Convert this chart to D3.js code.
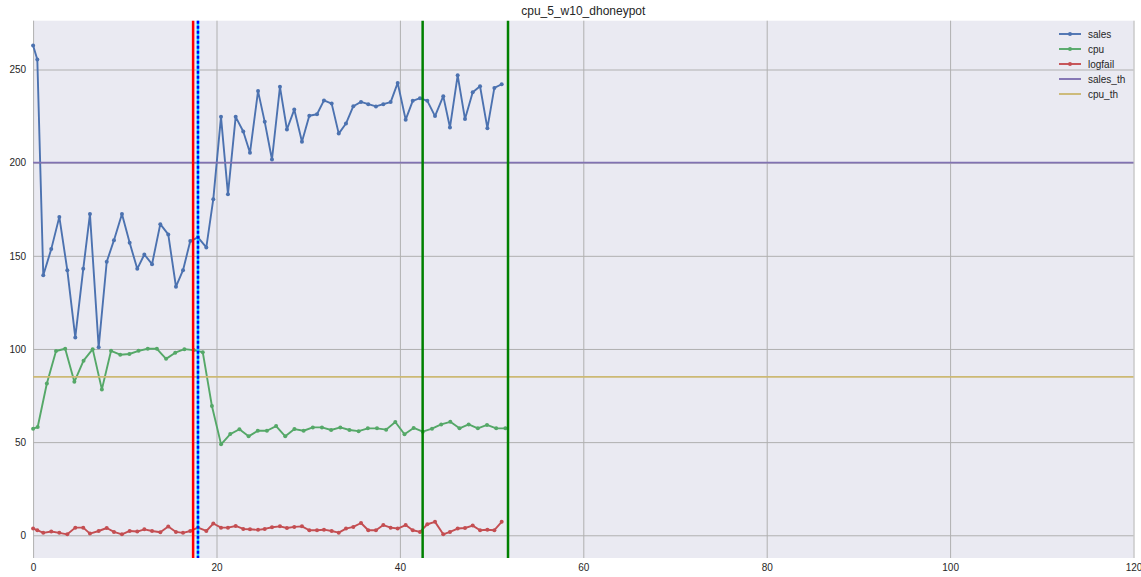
<!DOCTYPE html>
<html>
<head>
<meta charset="utf-8">
<script src="https://cdn.jsdelivr.net/npm/d3@7"></script>
<style>
  body { margin: 0; background: #fff; }
  text { font-family: "Liberation Sans", Arial, sans-serif; fill: #262626; }
</style>
</head>
<body>
<div id="chart"></div>
<script>
// series (x = minutes)
const salesX = [0, 0.46, 1.11, 1.98, 2.86, 3.73, 4.60, 5.47, 6.20, 7.15, 8.03, 8.82, 9.69, 10.53, 11.36, 12.13,
  12.97, 13.87, 14.74, 15.58, 16.35, 17.14, 17.98, 18.89, 19.65, 20.49, 21.25, 22.09, 22.92, 23.65, 24.53, 25.26,
  26.05, 26.92, 27.68, 28.48, 29.32, 30.12, 30.96, 31.72, 32.56, 33.33, 34.12, 34.92, 35.76, 36.55, 37.39, 38.19,
  38.99, 39.76, 40.63, 41.40, 42.19, 42.99, 43.83, 44.73, 45.46, 46.30, 47.10, 47.94, 48.74, 49.54, 50.30, 51.10];
const sales = [262.9, 255.4, 139.6, 153.6, 170.9, 142.3, 106.2, 143.0, 172.4, 100.9, 146.8, 158.4, 172.4, 157.0, 143.0, 150.7,
  145.5, 167.0, 161.5, 133.4, 142.3, 157.9, 159.9, 154.5, 180.4, 224.6, 183.1, 224.6, 216.7, 205.3, 238.4, 221.9,
  201.7, 240.7, 217.8, 228.5, 211.2, 225.2, 226.0, 233.4, 231.7, 215.6, 221.0, 230.3, 232.6, 231.4, 230.2, 231.4,
  232.5, 242.8, 223.1, 233.2, 234.6, 233.2, 225.0, 235.7, 218.9, 246.9, 223.4, 237.8, 241.0, 218.5, 240.1, 242.1];
const logfail = [3.6, 2.7, 1.3, 2.0, 1.3, 0.5, 4.1, 4.1, 0.9, 2.3, 3.9, 1.8, 0.5, 2.3, 2.0, 3.2,
  2.3, 1.6, 4.7, 1.8, 1.3, 2.3, 4.1, 2.3, 6.3, 4.1, 4.1, 5.0, 3.4, 3.2, 2.9, 3.4,
  4.3, 4.8, 3.9, 4.5, 4.8, 2.7, 2.7, 3.0, 2.3, 1.4, 3.6, 4.5, 6.6, 2.7, 2.7, 5.5,
  4.1, 3.6, 5.5, 2.7, 1.8, 5.9, 7.2, 0.5, 1.8, 3.6, 3.9, 5.2, 2.7, 3.0, 2.7, 7.2];
const cpuX = [0, 0.5, 1.5, 2.5, 3.5, 4.5, 5.5, 6.5, 7.5, 8.5, 9.5, 10.5, 11.5, 12.5, 13.5, 14.5, 15.5, 16.5,
  17.5, 18.5, 19.5, 20.5, 21.5, 22.5, 23.5, 24.5, 25.5, 26.5, 27.5, 28.5, 29.5, 30.5, 31.5, 32.5, 33.5, 34.5,
  35.5, 36.5, 37.5, 38.5, 39.5, 40.5, 41.5, 42.5, 43.5, 44.5, 45.5, 46.5, 47.5, 48.5, 49.5, 50.5, 51.5];
const cpu = [57.2, 58.1, 81.5, 98.9, 100.1, 82.4, 93.7, 99.9, 78.3, 99.0, 96.9, 97.3, 99.0, 100.1, 100.1, 94.7, 98.0, 99.9,
  99.4, 98.3, 69.4, 48.8, 54.3, 56.9, 53.1, 56.1, 56.1, 58.6, 53.1, 57.0, 56.1, 57.9, 57.9, 56.5, 57.9, 56.5,
  55.9, 57.4, 57.4, 56.7, 60.8, 54.2, 57.6, 55.6, 57.2, 59.5, 60.9, 57.4, 59.5, 57.4, 59.2, 57.4, 57.4];
const salesTh = 200;
const cpuTh = 85;
const redLines = [17.45];
const blueLines = [17.98];
const greenLines = [42.48, 51.79];
const xTicks = [0, 20, 40, 60, 80, 100, 120];
const yTicks = [0, 50, 100, 150, 200, 250];

const W = 1141, H = 577;
const margin = {top: 20.7, right: 7.5, bottom: 19, left: 33.1};
const width = W - margin.left - margin.right;
const height = H - margin.top - margin.bottom;

const svg = d3.select('#chart')
  .append('svg')
  .attr('width', W)
  .attr('height', H)

svg.append('text')
  .attr('x', margin.left + width / 2)
  .attr('y', 15)
  .attr('text-anchor', 'middle')
  .style('font-size', '12px')
  .text('cpu_5_w10_dhoneypot');

const g = svg.append('g')
  .attr('transform', `translate(${margin.left},${margin.top})`);

const x = d3.scaleLinear().domain([0, 120]).range([0, width]);
const y = d3.scaleLinear().domain([-12.2, 276.2]).range([height, 0]);

g.append('rect')
  .attr('width', width)
  .attr('height', height)
  .attr('fill', '#EAEAF2');

// grid + tick labels
const xAxis = g.append('g')
  .attr('transform', `translate(0,${height})`)
  .call(d3.axisBottom(x).tickValues(xTicks).tickSize(-height).tickPadding(6).tickFormat(d3.format('d')));
const yAxis = g.append('g')
  .call(d3.axisLeft(y).tickValues(yTicks).tickSize(-width).tickPadding(7).tickFormat(d3.format('d')));
[xAxis, yAxis].forEach((a) => {
  a.select('.domain').remove();
  a.selectAll('line').attr('stroke', '#b0b0b0').attr('stroke-width', 1);
  a.selectAll('text').attr('fill', '#262626').style('font-size', '10px').style('font-family', '"Liberation Sans", Arial, sans-serif');
});

const colors = {sales: '#4C72B0', cpu: '#55A868', logfail: '#C44E52', sales_th: '#8172B2', cpu_th: '#CCB974'};

const line = d3.line().x((d) => x(d[0])).y((d) => y(d[1]));

const series = [
  {key: 'sales', pts: d3.zip(salesX, sales)},
  {key: 'cpu', pts: d3.zip(cpuX, cpu)},
  {key: 'logfail', pts: d3.zip(salesX, logfail)}
];

series.forEach((s) => {
  g.append('path')
    .datum(s.pts)
    .attr('fill', 'none')
    .attr('stroke', colors[s.key])
    .attr('stroke-width', 1.9)
    .attr('stroke-linejoin', 'round')
    .attr('d', line);
  g.append('g')
    .selectAll('circle')
    .data(s.pts)
    .join('circle')
    .attr('cx', (d) => x(d[0]))
    .attr('cy', (d) => y(d[1]))
    .attr('r', 2)
    .attr('fill', colors[s.key]);
});

[['sales_th', salesTh], ['cpu_th', cpuTh]].forEach(([k, v]) => {
  g.append('line')
    .attr('x1', x(0)).attr('x2', x(120))
    .attr('y1', y(v)).attr('y2', y(v))
    .attr('stroke', colors[k])
    .attr('stroke-width', 1.9);
});

// vertical markers
const vline = (v, color, w, dash) => g.append('line')
  .attr('x1', x(v)).attr('x2', x(v))
  .attr('y1', 0).attr('y2', height)
  .attr('stroke', color)
  .attr('stroke-width', w)
  .attr('stroke-dasharray', dash);
redLines.forEach((v) => vline(v, '#ff0000', 2.5, null));
blueLines.forEach((v) => { vline(v, '#00e5ff', 2.5, null); vline(v, '#0000ff', 2.5, '3,2'); });
greenLines.forEach((v) => vline(v, '#008000', 2.5, null));

// legend
const legendKeys = ['sales', 'cpu', 'logfail', 'sales_th', 'cpu_th'];
const legend = svg.append('g').attr('transform', 'translate(1059,34)');
legendKeys.forEach((k, i) => {
  const row = legend.append('g').attr('transform', `translate(0,${i * 15})`);
  row.append('line')
    .attr('x1', 0).attr('x2', 22)
    .attr('stroke', colors[k])
    .attr('stroke-width', 1.9);
  if (i < 3) row.append('circle').attr('cx', 11).attr('r', 2).attr('fill', colors[k]);
  row.append('text')
    .attr('x', 29)
    .attr('dy', '0.35em')
    .style('font-size', '10px')
    .text(k);
});
</script>
</body>
</html>
